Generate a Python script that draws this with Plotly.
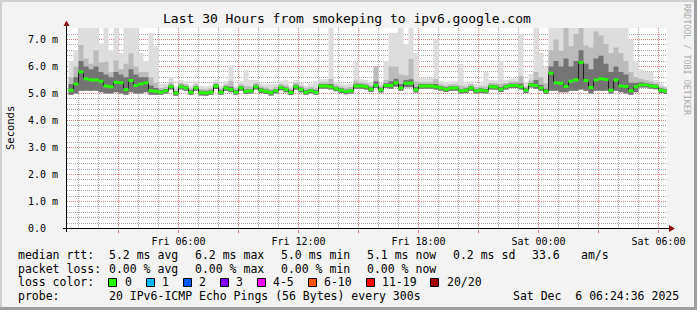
import numpy as np
import pandas as pd
import plotly.graph_objects as go

# ---------------- data ----------------
start = "2025-12-05 00:30"   # first 15-minute step
step = "15min"

median = [5.12, 5.35, 5.8, 5.55, 5.5, 5.5, 5.45, 5.28, 5.25, 5.42,
          5.4, 5.15, 5.48, 5.3, 5.35, 5.4, 5.1, 5.08, 5.05, 5.1,
          5.25, 5.02, 5.25, 5.2, 5.05, 5.2, 5.03, 5.02, 5.05, 5.27,
          5.05, 5.2, 5.15, 5.05, 5.2, 5.08, 5.1, 5.25, 5.12, 5.08,
          5.03, 5.1, 5.22, 5.15, 5.04, 5.25, 5.15, 5.05, 5.1, 5.05,
          5.28, 5.28, 5.25, 5.18, 5.12, 5.07, 5.1, 5.28, 5.28, 5.25,
          5.16, 5.3, 5.14, 5.3, 5.3, 5.4, 5.2, 5.38, 5.38, 5.14,
          5.28, 5.28, 5.28, 5.25, 5.2, 5.16, 5.2, 5.2, 5.1, 5.12,
          5.2, 5.1, 5.12, 5.1, 5.25, 5.24, 5.16, 5.25, 5.3, 5.3,
          5.25, 5.12, 5.32, 5.3, 5.2, 5.08, 5.75, 5.4, 5.38, 5.26,
          5.45, 5.5, 6.15, 5.48, 5.22, 5.5, 5.55, 5.52, 5.12, 5.5,
          5.28, 5.26, 5.1, 5.25, 5.32, 5.32, 5.28, 5.26, 5.12, 5.08]

# smoke spread above the median (outer/light, middle, inner/dark) and below it
smoke_light_up = [1.08, 1.25, 2.5, 2.5, 2.5, 2.5, 1.4, 2.5, 1.35, 2.5,
                  1.1, 2.5, 2.5, 2.5, 1.15, 0.8, 2.15, 1.67, 0.3, 0.25,
                  0.35, 0.25, 0.25, 0.25, 0.25, 0.25, 0.25, 0.25, 0.25, 0.25,
                  0.25, 0.25, 0.9, 0.25, 0.25, 0.8, 0.4, 0.25, 0.25, 0.25,
                  0.3, 0.25, 0.25, 0.35, 0.25, 0.25, 0.25, 0.25, 0.25, 0.4,
                  0.25, 0.25, 2.3, 0.25, 0.25, 0.25, 0.25, 0.9, 0.25, 0.25,
                  0.25, 0.5, 0.25, 0.9, 1.95, 1.85, 2.3, 1.45, 2.1, 1.35,
                  0.3, 0.3, 0.3, 1.75, 0.25, 0.25, 0.25, 0.25, 1.0, 0.25,
                  0.25, 0.25, 0.25, 0.7, 0.25, 0.25, 1.05, 0.25, 0.25, 0.25,
                  1.95, 0.3, 0.4, 2.2, 1.3, 0.9, 2.5, 2.5, 2.5, 2.5,
                  2.5, 2.5, 2.5, 2.5, 2.5, 2.5, 2.5, 2.5, 2.5, 2.5,
                  2.5, 2.5, 1.9, 0.95, 0.58, 0.48, 0.52, 0.24, 0.25, 0.2]

smoke_mid_up = [0.48, 0.65, 1.0, 0.75, 0.6, 1.1, 0.7, 0.9, 0.55, 0.8,
                0.5, 0.95, 1.0, 0.7, 0.45, 0.4, 0.5, 0.32, 0.15, 0.14,
                0.16, 0.14, 0.14, 0.14, 0.14, 0.14, 0.14, 0.14, 0.14, 0.14,
                0.14, 0.14, 0.3, 0.14, 0.14, 0.2, 0.16, 0.14, 0.14, 0.14,
                0.14, 0.14, 0.14, 0.16, 0.14, 0.14, 0.14, 0.14, 0.14, 0.16,
                0.14, 0.14, 0.3, 0.14, 0.14, 0.14, 0.14, 0.2, 0.14, 0.14,
                0.14, 0.7, 0.14, 0.2, 0.7, 0.6, 0.5, 0.3, 0.9, 0.3,
                0.14, 0.14, 0.14, 0.3, 0.14, 0.14, 0.14, 0.14, 0.2, 0.14,
                0.14, 0.14, 0.14, 0.16, 0.14, 0.14, 0.2, 0.14, 0.14, 0.14,
                0.4, 0.14, 0.16, 0.5, 0.4, 0.3, 0.85, 1.6, 1.2, 2.24,
                1.3, 1.7, 1.35, 1.3, 1.48, 1.8, 1.6, 1.3, 1.38, 1.2,
                1.22, 0.94, 0.7, 0.35, 0.23, 0.18, 0.17, 0.14, 0.14, 0.14]

smoke_dark_up = [0.23, 0.25, 0.4, 0.45, 0.4, 0.5, 0.35, 0.42, 0.35, 0.38,
                 0.3, 0.45, 0.42, 0.4, 0.25, 0.2, 0.2, 0.12, 0.07, 0.07,
                 0.07, 0.07, 0.07, 0.07, 0.07, 0.07, 0.07, 0.07, 0.07, 0.07,
                 0.07, 0.07, 0.1, 0.07, 0.07, 0.07, 0.07, 0.07, 0.07, 0.07,
                 0.07, 0.07, 0.07, 0.07, 0.07, 0.07, 0.07, 0.07, 0.07, 0.07,
                 0.07, 0.07, 0.1, 0.07, 0.07, 0.07, 0.07, 0.08, 0.07, 0.07,
                 0.07, 0.15, 0.07, 0.08, 0.15, 0.15, 0.15, 0.12, 0.15, 0.1,
                 0.07, 0.07, 0.07, 0.1, 0.07, 0.07, 0.07, 0.07, 0.07, 0.07,
                 0.07, 0.07, 0.07, 0.07, 0.07, 0.07, 0.08, 0.07, 0.07, 0.07,
                 0.12, 0.07, 0.07, 0.2, 0.12, 0.1, 0.25, 0.8, 0.62, 1.04,
                 0.55, 0.7, 0.45, 0.62, 0.68, 0.8, 0.85, 0.58, 0.68, 0.5,
                 0.52, 0.44, 0.3, 0.15, 0.1, 0.07, 0.07, 0.07, 0.07, 0.07]

smoke_below = [0.17, 0.35, 0.7, 0.45, 0.4, 0.4, 0.4, 0.28, 0.25, 0.37,
               0.4, 0.2, 0.43, 0.3, 0.35, 0.35, 0.15, 0.13, 0.1, 0.1,
               0.1, 0.1, 0.1, 0.1, 0.1, 0.1, 0.1, 0.1, 0.1, 0.1,
               0.1, 0.1, 0.1, 0.1, 0.1, 0.1, 0.1, 0.1, 0.1, 0.1,
               0.1, 0.1, 0.1, 0.1, 0.1, 0.1, 0.1, 0.1, 0.1, 0.1,
               0.1, 0.1, 0.1, 0.1, 0.1, 0.1, 0.1, 0.1, 0.1, 0.1,
               0.1, 0.1, 0.1, 0.1, 0.12, 0.15, 0.1, 0.15, 0.15, 0.1,
               0.1, 0.1, 0.1, 0.1, 0.1, 0.1, 0.1, 0.1, 0.1, 0.1,
               0.1, 0.1, 0.1, 0.1, 0.1, 0.1, 0.1, 0.1, 0.1, 0.1,
               0.1, 0.1, 0.1, 0.12, 0.1, 0.1, 0.65, 0.3, 0.33, 0.21,
               0.35, 0.4, 1.0, 0.38, 0.22, 0.4, 0.45, 0.42, 0.12, 0.4,
               0.23, 0.26, 0.15, 0.2, 0.1, 0.1, 0.1, 0.1, 0.1, 0.1]

title_text = "Last 30 Hours from smokeping to ipv6.google.com"
rtt_items = ["5.2 ms avg", "6.2 ms max", "5.0 ms min", "5.1 ms now", "0.2 ms sd", "33.6", "am/s"]
loss_items = ["0.00 % avg", "0.00 % max", "0.00 % min", "0.00 % now"]
loss_labels = ["0", "1", "2", "3", "4-5", "6-10", "11-19", "20/20"]
loss_colors = ["#26ff00", "#00b8ff", "#0059ff", "#7e00ff", "#ff00ff", "#ff5500", "#ff0000", "#a10000"]
probe_text = "20 IPv6-ICMP Echo Pings (56 Bytes) every 300s"
stamp_text = "Sat Dec\u00a0\u00a06 06:24:36 2025"

# ---------------- geometry / style ----------------
W, H = 697, 310
L, R, T, B = 67, 667, 28, 229
FONT = "DejaVu Sans Mono"
# half-pixel offsets keep the 1px dotted grid lines crisp
X_RANGE = ["2025-12-05 00:25:30", "2025-12-06 06:25:30"]
PX_PER_MS = 27.0
Y0 = -0.5 / PX_PER_MS
Y_RANGE = [Y0, Y0 + (B - T) / PX_PER_MS]


def px(x):
    return (x - L) / (R - L)


def py(y):
    return (B - y) / (B - T)


med = np.array(median)
times = pd.date_range(start, periods=len(median) + 1, freq=step)


def ext(a):
    a = list(a)
    return a + [a[-1]]


low = med - np.array(smoke_below)

MAJOR = "#E58080"
MINOR = "#A8A8A8"
HOUR = 3600000

fig = go.Figure()

# hourly minor grid (vertical) drawn as a trace on the time axis, underneath the smoke
hourly = [d for d in pd.date_range("2025-12-05 01:00", "2025-12-06 06:00", freq="1h") if d.hour % 3 != 0]
gx, gy = [], []
for d in hourly:
    gx += [d, d, None]
    gy += [Y_RANGE[0], Y_RANGE[1], None]
fig.add_trace(go.Scatter(x=gx, y=gy, mode="lines", connectgaps=False,
                         line=dict(color=MINOR, width=1, dash="1px,1px"),
                         hoverinfo="skip", showlegend=False))

for up, col in [(smoke_light_up, "#DDDDDD"), (smoke_mid_up, "#BBBBBB"), (smoke_dark_up, "#747474")]:
    fig.add_trace(go.Scatter(x=times, y=ext(low), mode="lines",
                             line=dict(width=0, shape="hv"), hoverinfo="skip", showlegend=False))
    fig.add_trace(go.Scatter(x=times, y=ext(med + np.array(up)), mode="lines",
                             line=dict(width=0, shape="hv"), fill="tonexty", fillcolor=col,
                             hoverinfo="skip", showlegend=False))

# median line
fig.add_trace(go.Scatter(x=times, y=ext(med), mode="lines",
                         line=dict(width=1, color="#202020", shape="hv"),
                         hoverinfo="skip", showlegend=False))
# loss-colour band around the median
hw = 0.055
fig.add_trace(go.Scatter(x=times, y=ext(med - hw), mode="lines",
                         line=dict(width=0, shape="hv"), hoverinfo="skip", showlegend=False))
fig.add_trace(go.Scatter(x=times, y=ext(med + hw), mode="lines",
                         line=dict(width=0, shape="hv"), fill="tonexty", fillcolor=loss_colors[0],
                         hoverinfo="skip", showlegend=False))

# labels only every 6 hours; the 3-hourly grid lines in between carry no label
blank = "\u00a0"
x_alias = {f"{d:%a %H:%M}": blank
           for d in pd.date_range("2025-12-05 03:00", "2025-12-06 06:00", freq="6h")}

fig.update_layout(
    xaxis=dict(type="date", range=X_RANGE,
               tickmode="linear", tick0="2025-12-05 00:00", dtick=3 * HOUR,
               tickformat="%a %H:%M", labelalias=x_alias,
               showgrid=True, gridcolor=MAJOR, griddash="1px,1px", gridwidth=1,
               ticks="outside", ticklen=3, tickcolor="#E07070",
               tickfont=dict(family=FONT, size=10, color="black"),
               zeroline=False, showline=False, fixedrange=True),
    yaxis=dict(range=Y_RANGE, tickmode="linear", tick0=0, dtick=1,
               tickformat=".1f", ticksuffix=" m", labelalias={"0.0 m": "0.0\u00a0\u00a0"},
               showgrid=True, gridcolor=MAJOR, griddash="1px,1px", gridwidth=1,
               minor=dict(tickmode="linear", tick0=0, dtick=0.2, showgrid=True, gridcolor=MINOR,
                          griddash="1px,1px", gridwidth=1),
               ticks="", ticklabelstandoff=8,
               tickfont=dict(family=FONT, size=10, color="black"),
               zeroline=False, showline=False, fixedrange=True),
)

shapes = []
# frame
shapes.append(dict(type="rect", xref="paper", yref="paper", x0=px(0), x1=px(W), y0=py(0), y1=py(2),
                   fillcolor="#CFCFCF", line=dict(width=0), layer="above"))
shapes.append(dict(type="rect", xref="paper", yref="paper", x0=px(0), x1=px(2), y0=py(0), y1=py(H),
                   fillcolor="#CFCFCF", line=dict(width=0), layer="above"))
shapes.append(dict(type="rect", xref="paper", yref="paper", x0=px(0), x1=px(W), y0=py(H - 3), y1=py(H),
                   fillcolor="#9E9E9E", line=dict(width=0), layer="above"))
shapes.append(dict(type="rect", xref="paper", yref="paper", x0=px(W - 3), x1=px(W), y0=py(0), y1=py(H),
                   fillcolor="#9E9E9E", line=dict(width=0), layer="above"))
# axes with arrows
shapes.append(dict(type="line", xref="paper", yref="paper", x0=px(63), x1=px(670), y0=py(228.5), y1=py(228.5),
                   line=dict(color="black", width=1), layer="above"))
shapes.append(dict(type="line", xref="paper", yref="paper", x0=px(66.5), x1=px(66.5), y0=py(232), y1=py(25),
                   line=dict(color="black", width=1), layer="above"))
shapes.append(dict(type="path", xref="paper", yref="paper",
                   path=f"M {px(669)} {py(225)} L {px(675)} {py(228.5)} L {px(669)} {py(232)} Z",
                   fillcolor="#8B1010", line=dict(width=0), layer="above"))
shapes.append(dict(type="path", xref="paper", yref="paper",
                   path=f"M {px(63.5)} {py(26)} L {px(66.5)} {py(20.5)} L {px(69.5)} {py(26)} Z",
                   fillcolor="#8B1010", line=dict(width=0), layer="above"))

annotations = []


def text(x, y, s, size=11.5, anchor="left", color="black", angle=0):
    annotations.append(dict(xref="paper", yref="paper", x=px(x), y=py(y), text=s, showarrow=False,
                            xanchor=anchor, yanchor="middle", textangle=angle,
                            font=dict(family=FONT, size=size, color=color)))


text(347, 18, title_text, size=13, anchor="center")
text(10, 128, "Seconds", size=10.5, anchor="center", angle=-90)
text(687, 60, "RRDTOOL / TOBI OETIKER", size=8.4, anchor="center", color="#ABABAB", angle=90)

row_y = [255, 268.5, 282, 295.5]
text(16, row_y[0], "median rtt:")
for xx, s in zip([107, 193, 279, 365, 451, 530, 579], rtt_items):
    text(xx, row_y[0], s)
text(16, row_y[1], "packet loss:")
for xx, s in zip([107, 193, 279, 365], loss_items):
    text(xx, row_y[1], s)
text(16, row_y[2], "loss color:")
box_x = [108, 146, 183, 220, 257, 308, 366, 430]
lab_x = [123, 160, 197, 234, 271, 322, 380, 445]
for bx, lx, lab, col in zip(box_x, lab_x, loss_labels, loss_colors):
    shapes.append(dict(type="rect", xref="paper", yref="paper", x0=px(bx + 0.5), x1=px(bx + 8.5),
                       y0=py(278.5), y1=py(286.5), fillcolor=col,
                       line=dict(color="black", width=1), layer="above"))
    text(lx, row_y[2], lab)
text(16, row_y[3], "probe:")
text(107, row_y[3], probe_text)
text(681, row_y[3], stamp_text, anchor="right")

fig.update_layout(width=W, height=H, autosize=False,
                  margin=dict(l=L, r=W - R, t=T, b=H - B, pad=0),
                  paper_bgcolor="#F3F3F3", plot_bgcolor="white",
                  shapes=shapes, annotations=annotations, showlegend=False)

fig.write_html("out.html", config={"displayModeBar": False})
